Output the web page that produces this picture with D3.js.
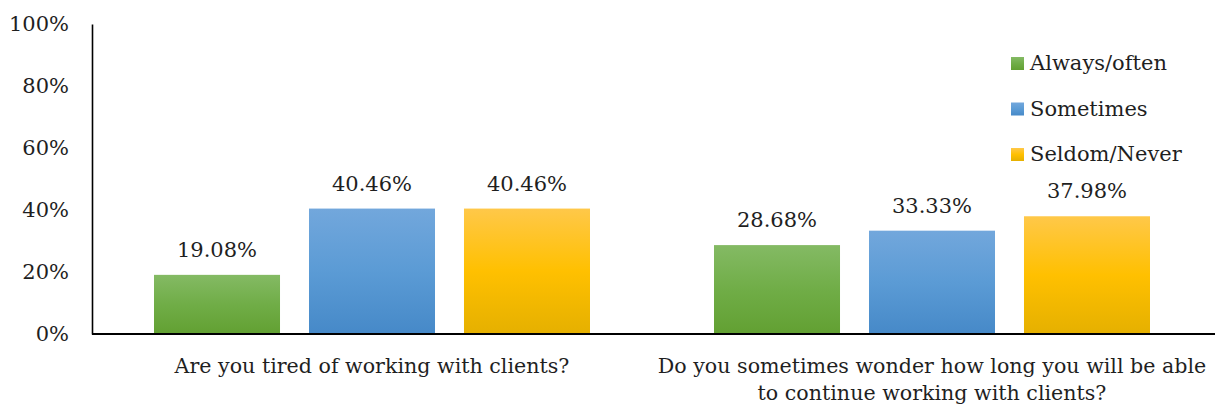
<!DOCTYPE html>
<html>
<head>
<meta charset="utf-8">
<script src="https://cdn.jsdelivr.net/npm/d3@7"></script>
<style>
  html, body { margin: 0; padding: 0; background: #fff; }
  svg text { font-family: "DejaVu Serif", serif; fill: #1f1f1f; }
</style>
</head>
<body>
<svg id="chart" width="1215" height="409"></svg>
<script>
// Survey responses, share of respondents per answer
const questions = [
  ["Are you tired of working with clients?"],
  ["Do you sometimes wonder how long you will be able", "to continue working with clients?"]
];
const answers = ["Always/often", "Sometimes", "Seldom/Never"];
const alwaysOften = [19.08, 28.68];
const sometimes = [40.46, 33.33];
const seldomNever = [40.46, 37.98];
const yTicks = [0, 20, 40, 60, 80, 100];

const seriesValues = [alwaysOften, sometimes, seldomNever];
// colour stops per series: top, middle, bottom
const palettes = [
  ["#84ba64", "#70ad47", "#62a032"],
  ["#72a7dc", "#5b9bd5", "#4689c8"],
  ["#ffc849", "#ffc000", "#e5b000"]
];

const FS = 21;
const FS_CAT = 20.6;
const svg = d3.select("#chart");
const margin = { left: 92, right: 3, top: 24, bottom: 75 };
const W = 1215, H = 409;

const x0 = d3.scaleBand().domain(d3.range(questions.length)).range([margin.left, W - margin.right]);
const x1 = d3.scaleBand().domain(d3.range(answers.length)).range([62, x0.bandwidth() - 62]).paddingInner(0.187);
const y = d3.scaleLinear().domain([0, 100]).range([H - margin.bottom, margin.top]);

// vertical gradients
const defs = svg.append("defs");
palettes.forEach((p, i) => {
  const g = defs.append("linearGradient").attr("id", "grad" + i)
    .attr("x1", 0).attr("y1", 0).attr("x2", 0).attr("y2", 1);
  g.append("stop").attr("offset", "0%").attr("stop-color", p[0]);
  g.append("stop").attr("offset", "50%").attr("stop-color", p[1]);
  g.append("stop").attr("offset", "100%").attr("stop-color", p[2]);
});

// y axis
const yAxis = svg.append("g")
  .attr("transform", `translate(${margin.left},0)`)
  .call(d3.axisLeft(y).tickValues(yTicks).tickSize(0).tickPadding(23).tickFormat(d => d + "%"));
yAxis.attr("font-family", null);
yAxis.select(".domain").attr("stroke", "#000").attr("stroke-width", 1.6);
yAxis.selectAll(".tick text").attr("font-size", FS).attr("fill", "#1f1f1f").attr("dy", "0.32em");

// bars and value labels
const groups = svg.append("g").selectAll("g").data(questions).join("g")
  .attr("transform", (d, i) => `translate(${x0(i)},0)`);
groups.each(function (q, qi) {
  const g = d3.select(this);
  const vals = seriesValues.map(s => s[qi]);
  g.selectAll("rect").data(vals).join("rect")
    .attr("x", (d, si) => x1(si)).attr("width", x1.bandwidth())
    .attr("y", d => y(d)).attr("height", d => y(0) - y(d))
    .attr("fill", (d, si) => `url(#grad${si})`);
  g.selectAll("text.val").data(vals).join("text").attr("class", "val")
    .attr("x", (d, si) => x1(si) + x1.bandwidth() / 2)
    .attr("y", d => y(d) - 18)
    .attr("text-anchor", "middle").attr("font-size", FS)
    .text(d => d.toFixed(2) + "%");
});

// x axis baseline
svg.append("line").attr("x1", margin.left).attr("x2", W)
  .attr("y1", y(0)).attr("y2", y(0)).attr("stroke", "#000").attr("stroke-width", 2);

// category labels
questions.forEach((lines, i) => {
  const t = svg.append("text").attr("text-anchor", "middle").attr("font-size", FS_CAT);
  lines.forEach((line, li) => {
    t.append("tspan").attr("x", x0(i) + x0.bandwidth() / 2).attr("y", 373 + li * 27).text(line);
  });
});

// legend
const legend = svg.append("g").attr("transform", "translate(1011,57)");
answers.forEach((name, i) => {
  const row = legend.append("g").attr("transform", `translate(0,${i * 45.5})`);
  row.append("rect").attr("width", 13).attr("height", 13).attr("fill", `url(#grad${i})`);
  row.append("text").attr("x", 19).attr("y", 13).attr("font-size", FS).text(name);
});
</script>
</body>
</html>
